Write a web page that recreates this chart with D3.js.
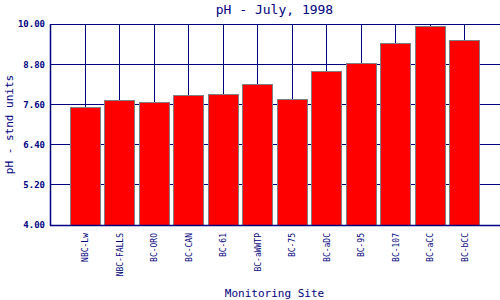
<!DOCTYPE html>
<html><head><meta charset="utf-8">
<script src="https://cdn.jsdelivr.net/npm/d3@7"></script>
<style>body{margin:0;background:#fff}svg{display:block}</style>
</head><body>
<svg id="c" width="500" height="300"></svg>
<script>
const sites = ["NBC-Lw","NBC-FALLS","BC-ORO","BC-CAN","BC-61","BC-aWWTP","BC-75","BC-aDC","BC-95","BC-107","BC-aCC","BC-bCC"];
const phValues = [7.53, 7.72, 7.66, 7.89, 7.92, 8.20, 7.75, 8.60, 8.83, 9.42, 9.93, 9.51];
const yTicks = [4.0, 5.2, 6.4, 7.6, 8.8, 10.0];

const navy = "#000080";
const font = "'DejaVu Sans Mono', 'Liberation Mono', monospace";
const svg = d3.select("#c");
const L = 50, R = 499, T = 24, B = 225;

const x = d3.scalePoint().domain(sites).range([L, R]).padding(1);
const y = d3.scaleLinear().domain([4, 10]).range([B, T]);

// horizontal grid
svg.append("g").selectAll("line").data(yTicks).join("line")
  .attr("x1", L).attr("x2", 500).attr("y1", d => y(d)).attr("y2", d => y(d))
  .attr("stroke", navy).attr("stroke-width", 1).attr("shape-rendering", "crispEdges");
// vertical grid
svg.append("g").selectAll("line").data(sites).join("line")
  .attr("x1", d => Math.round(x(d)) + 0.5).attr("x2", d => Math.round(x(d)) + 0.5)
  .attr("y1", T).attr("y2", B)
  .attr("stroke", navy).attr("stroke-width", 1).attr("shape-rendering", "crispEdges");

// bars
const bw = 30;
svg.append("g").selectAll("rect").data(sites).join("rect")
  .attr("x", d => Math.round(x(d) - bw / 2) + 0.5)
  .attr("y", (d, i) => Math.round(y(phValues[i])) + 0.5)
  .attr("width", bw)
  .attr("height", (d, i) => B - Math.round(y(phValues[i])))
  .attr("fill", "#ff0000").attr("stroke", "#808080").attr("stroke-width", 1);

// axes frame
svg.append("line").attr("x1", L + 0.5).attr("x2", L + 0.5).attr("y1", T).attr("y2", B + 1)
  .attr("stroke", navy).attr("stroke-width", 1.5);
svg.append("line").attr("x1", L).attr("x2", 500).attr("y1", B + 0.5).attr("y2", B + 0.5)
  .attr("stroke", navy).attr("stroke-width", 1.5);

// y axis
const yAxis = d3.axisLeft(y).tickValues(yTicks).tickFormat(d3.format(".2f")).tickSize(0).tickPadding(5);
const ga = svg.append("g").attr("transform", `translate(${L},0)`).call(yAxis);
ga.select(".domain").remove();
ga.selectAll("text").attr("fill", navy).attr("font-family", font).attr("font-size", 9).attr("font-weight", "bold");

// x axis labels
const xAxis = d3.axisBottom(x).tickSize(0).tickPadding(0);
const gx = svg.append("g").attr("transform", `translate(0,${B})`).call(xAxis);
gx.select(".domain").remove();
gx.selectAll("text")
  .attr("fill", navy).attr("font-family", font).attr("font-size", 8)
  .attr("text-anchor", "end").attr("dy", null)
  .attr("transform", "translate(3,8) rotate(-90)").attr("x", 0).attr("y", 0);

// titles
svg.append("text").attr("x", (L + R) / 2).attr("y", 14).attr("text-anchor", "middle")
  .attr("fill", navy).attr("font-family", font).attr("font-size", 13).text("pH - July, 1998");
svg.append("text").attr("x", (L + R) / 2).attr("y", 297).attr("text-anchor", "middle")
  .attr("fill", navy).attr("font-family", font).attr("font-size", 11).text("Monitoring Site");
svg.append("text").attr("transform", `translate(13,${(T + B) / 2}) rotate(-90)`).attr("text-anchor", "middle")
  .attr("fill", navy).attr("font-family", font).attr("font-size", 11).text("pH - stnd units");
</script>
</body></html>
